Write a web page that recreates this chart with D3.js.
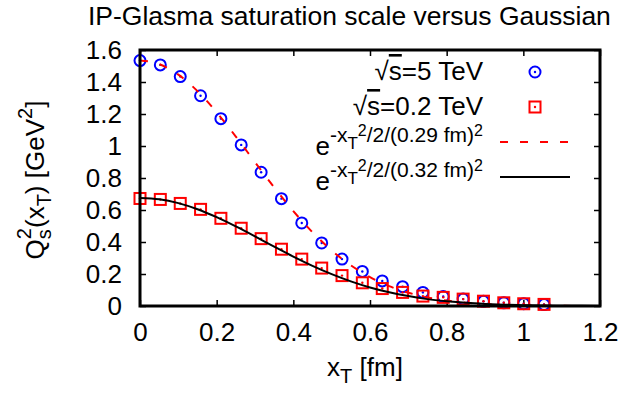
<!DOCTYPE html>
<html>
<head>
<meta charset="utf-8">
<script src="https://cdn.jsdelivr.net/npm/d3@7"></script>
<style>
  body { margin: 0; background: #fff; }
  text { font-family: "Liberation Sans", Arial, sans-serif; fill: #000; }
</style>
</head>
<body>
<svg id="chart"></svg>
<script>
// lattice positions x_T [fm]
const xT = [0, 0.053, 0.105, 0.158, 0.211, 0.264, 0.316, 0.369, 0.422, 0.474, 0.527,
  0.580, 0.632, 0.685, 0.738, 0.791, 0.843, 0.896, 0.949, 1.001, 1.054];
// Qs^2 at sqrt(s) = 5 TeV
const qs5TeV = [1.534, 1.507, 1.434, 1.314, 1.171, 1.007, 0.836, 0.671, 0.519, 0.394, 0.293,
  0.216, 0.157, 0.121, 0.085, 0.059, 0.043, 0.029, 0.020, 0.014, 0.009];
// Qs^2 at sqrt(s) = 0.2 TeV
const qs02TeV = [0.672, 0.666, 0.641, 0.604, 0.548, 0.486, 0.421, 0.355, 0.293, 0.237, 0.190,
  0.145, 0.109, 0.085, 0.062, 0.054, 0.043, 0.030, 0.020, 0.014, 0.010];

// gaussian curves
const curveX = [0, 0.05, 0.1, 0.15, 0.2, 0.25, 0.3, 0.35, 0.4, 0.45, 0.5, 0.55, 0.6,
  0.65, 0.7, 0.75, 0.8, 0.85, 0.9, 0.95, 1.0, 1.05, 1.1, 1.15, 1.2];
const gauss029 = [1.535, 1.512, 1.446, 1.343, 1.210, 1.059, 0.899, 0.741, 0.593, 0.461, 0.347,
  0.254, 0.181, 0.124, 0.083, 0.054, 0.034, 0.021, 0.012, 0.007, 0.004, 0.002, 0.001, 0.0006, 0.0003];
const gauss032 = [0.675, 0.667, 0.643, 0.605, 0.555, 0.497, 0.435, 0.371, 0.309, 0.251, 0.199,
  0.154, 0.116, 0.086, 0.062, 0.043, 0.030, 0.020, 0.013, 0.008, 0.005, 0.003, 0.002, 0.001, 0.0006];

const xTicks = [0, 0.2, 0.4, 0.6, 0.8, 1, 1.2];
const yTicks = [0, 0.2, 0.4, 0.6, 0.8, 1, 1.2, 1.4, 1.6];

const width = 636, height = 393;
const margin = { top: 50, right: 36, bottom: 87, left: 140 };
const fs = 26;

const svg = d3.select('#chart')
  .attr('width', width)
  .attr('height', height);

const x = d3.scaleLinear().domain([0, 1.2]).range([margin.left, width - margin.right]);
const y = d3.scaleLinear().domain([0, 1.6]).range([height - margin.bottom, margin.top]);

const fmt = d => d3.format('')(+d.toFixed(1));

// ticks on all four sides, pointing inwards
svg.append('g')
  .attr('transform', `translate(0,${y(0)})`)
  .call(d3.axisBottom(x).tickValues(xTicks).tickSize(-6).tickPadding(17).tickFormat(fmt));
svg.append('g')
  .attr('transform', `translate(0,${y(1.6)})`)
  .call(d3.axisTop(x).tickValues(xTicks).tickSize(-6).tickFormat(''));
svg.append('g')
  .attr('transform', `translate(${x(0)},0)`)
  .call(d3.axisLeft(y).tickValues(yTicks).tickSize(-6).tickPadding(18).tickFormat(fmt));
svg.append('g')
  .attr('transform', `translate(${x(1.2)},0)`)
  .call(d3.axisRight(y).tickValues(yTicks).tickSize(-6).tickFormat(''));

svg.selectAll('.domain').remove();
svg.selectAll('.tick line').attr('stroke', '#000').attr('stroke-width', 1.5);
svg.selectAll('.tick text').attr('font-size', fs).attr('font-family', 'Liberation Sans, Arial, sans-serif').attr('fill', '#000');

// plot data
const pts5 = xT.map((d, i) => ({ x: d, y: qs5TeV[i] }));
const pts02 = xT.map((d, i) => ({ x: d, y: qs02TeV[i] }));

const plot = svg.append('g');

const circ = plot.append('g').selectAll('g').data(pts5).enter().append('g')
  .attr('transform', d => `translate(${x(d.x)},${y(d.y)})`);
circ.append('circle').attr('r', 5.5).attr('fill', 'none').attr('stroke', '#0000ff').attr('stroke-width', 2);
circ.append('circle').attr('r', 1.2).attr('fill', '#0000ff');

const sq = plot.append('g').selectAll('g').data(pts02).enter().append('g')
  .attr('transform', d => `translate(${x(d.x)},${y(d.y)})`);
sq.append('rect').attr('x', -5.5).attr('y', -5.5).attr('width', 11).attr('height', 11)
  .attr('fill', 'none').attr('stroke', '#ff0000').attr('stroke-width', 2);
sq.append('circle').attr('r', 1.2).attr('fill', '#ff0000');

const line = d3.line().x(d => x(d[0])).y(d => y(d[1])).curve(d3.curveMonotoneX);

plot.append('path')
  .attr('d', line(curveX.map((d, i) => [d, gauss029[i]])))
  .attr('fill', 'none').attr('stroke', '#ff0000').attr('stroke-width', 2)
  .attr('stroke-dasharray', '8,12');
plot.append('path')
  .attr('d', line(curveX.map((d, i) => [d, gauss032[i]])))
  .attr('fill', 'none').attr('stroke', '#000').attr('stroke-width', 2);

// border
svg.append('rect')
  .attr('x', x(0)).attr('y', y(1.6))
  .attr('width', x(1.2) - x(0)).attr('height', y(0) - y(1.6))
  .attr('fill', 'none').attr('stroke', '#000').attr('stroke-width', 3);

// legend
const legX = 483, legY = [72, 107, 142, 177];
const leg = svg.append('g').attr('font-size', fs);

const t1 = leg.append('text').attr('x', legX).attr('y', legY[0] + 8).attr('text-anchor', 'end');
t1.append('tspan').text('√');
t1.append('tspan').style('text-decoration', 'overline').text('s');
t1.append('tspan').text('=5 TeV');
const t2 = leg.append('text').attr('x', legX).attr('y', legY[1] + 8).attr('text-anchor', 'end');
t2.append('tspan').text('√');
t2.append('tspan').style('text-decoration', 'overline').text('s');
t2.append('tspan').text('=0.2 TeV');

function gaussLabel(yy, w) {
  const t = leg.append('text').attr('x', legX).attr('y', yy + 13).attr('text-anchor', 'end');
  t.append('tspan').text('e');
  t.append('tspan').attr('font-size', 21).attr('dy', -13).text('-x');
  t.append('tspan').attr('font-size', 17).attr('dy', 7).text('T');
  t.append('tspan').attr('font-size', 16).attr('dy', -13).text('2');
  t.append('tspan').attr('font-size', 21).attr('dy', 6).text(`/2/(${w} fm)`);
  t.append('tspan').attr('font-size', 16).attr('dy', -6).text('2');
}
gaussLabel(legY[2], '0.29');
gaussLabel(legY[3], '0.32');

const c = leg.append('g').attr('transform', `translate(535,${legY[0]})`);
c.append('circle').attr('r', 5.5).attr('fill', 'none').attr('stroke', '#0000ff').attr('stroke-width', 2);
c.append('circle').attr('r', 1.2).attr('fill', '#0000ff');
const s = leg.append('g').attr('transform', `translate(535,${legY[1]})`);
s.append('rect').attr('x', -5.5).attr('y', -5.5).attr('width', 11).attr('height', 11)
  .attr('fill', 'none').attr('stroke', '#ff0000').attr('stroke-width', 2);
s.append('circle').attr('r', 1.2).attr('fill', '#ff0000');
leg.append('line').attr('x1', 500).attr('x2', 570).attr('y1', legY[2]).attr('y2', legY[2])
  .attr('stroke', '#ff0000').attr('stroke-width', 2).attr('stroke-dasharray', '8,12');
leg.append('line').attr('x1', 500).attr('x2', 570).attr('y1', legY[3]).attr('y2', legY[3])
  .attr('stroke', '#000').attr('stroke-width', 2);

// axis labels and title
const xl = svg.append('text').attr('x', x(0.6) - 5).attr('y', 376).attr('text-anchor', 'middle').attr('font-size', fs);
xl.append('tspan').text('x');
xl.append('tspan').attr('font-size', 20).attr('dy', 7).text('T');
xl.append('tspan').attr('dy', -7).text(' [fm]');

const yl = svg.append('text').attr('transform', `translate(44,${y(0.8) + 2}) rotate(-90)`)
  .attr('text-anchor', 'middle').attr('font-size', fs);
yl.append('tspan').text('Q');
yl.append('tspan').attr('font-size', 20).attr('dy', 7).text('s');
yl.append('tspan').attr('font-size', 20).attr('dx', -10).attr('dy', -20).text('2');
yl.append('tspan').attr('dy', 13).text('(x');
yl.append('tspan').attr('font-size', 20).attr('dy', 7).text('T');
yl.append('tspan').attr('dy', -7).text(') [GeV');
yl.append('tspan').attr('font-size', 20).attr('dy', -12).text('2');
yl.append('tspan').attr('dy', 12).text(']');

svg.append('text').attr('x', 88).attr('y', 25).attr('text-anchor', 'start')
  .attr('font-size', 26.5).text('IP-Glasma saturation scale versus Gaussian');
</script>
</body>
</html>
